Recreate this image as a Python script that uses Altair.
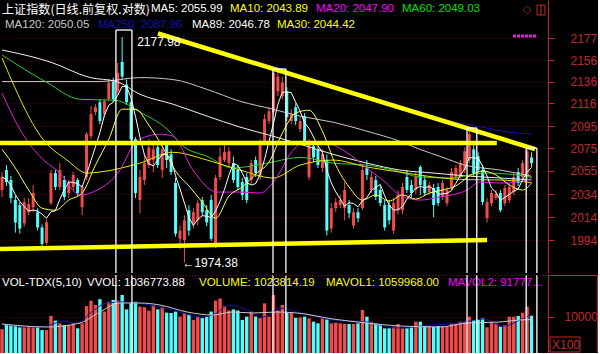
import altair as alt
import pandas as pd

# ---------------- values ----------------
opens = [2037.8, 2055.6, 2046.7, 2028.9, 2024.5, 2008.4, 2018.2, 2022.7, 2018.2, 2004.9,
         1991.5, 2026.2, 2052.9, 2040.5, 2046.7, 2035.1, 2040.5, 2046.7, 2022.7, 2049.4,
         2086.1, 2108.0, 2117.1, 2106.1, 2119.8, 2136.2, 2127.1, 2154.5, 2133.5, 2117.1,
         2083.3, 2028.9, 2046.7, 2060.0, 2064.5, 2076.0, 2055.6, 2078.8, 2069.7, 2044.0,
         1995.1, 1994.0, 2020.0, 2008.4, 2011.1, 2028.9, 2020.0, 2028.9, 1988.9, 2049.4,
         2064.5, 2061.8, 2061.8, 2055.6, 2044.9, 2049.4, 2046.7, 2064.5, 2049.4, 2080.6,
         2099.8, 2108.0, 2127.1, 2122.6, 2127.1, 2099.8, 2112.5, 2092.5, 2104.3, 2049.4,
         2077.0, 2074.2, 2057.4, 2064.5, 2004.0, 2021.8, 2024.5, 2021.8, 2024.5, 2006.7,
         2018.2, 2021.8, 2057.4, 2037.8, 2046.7, 2037.8, 2024.5, 2024.5, 2002.2, 2020.0,
         2020.0, 2049.4, 2042.3, 2037.8, 2058.3, 2046.7, 2036.0, 2039.6, 2040.5, 2031.6,
         2026.2, 2040.5, 2049.4, 2051.2, 2055.6, 2064.5, 2074.2, 2067.8, 2055.6, 2012.9,
         2026.2, 2030.7, 2035.1, 2026.2, 2028.9, 2036.0, 2053.8, 2049.4, 2049.4, 2066.9]
highs = [2053.8, 2060.0, 2050.3, 2032.5, 2027.1, 2030.7, 2030.7, 2042.3, 2021.8, 2007.5,
         2012.0, 2055.6, 2055.6, 2061.8, 2050.3, 2046.7, 2053.8, 2048.5, 2042.3, 2089.7,
         2113.4, 2115.3, 2119.8, 2119.8, 2138.1, 2139.9, 2153.6, 2177.98, 2138.1, 2119.8,
         2085.2, 2055.6, 2069.7, 2083.3, 2078.8, 2080.6, 2078.8, 2080.6, 2074.2, 2048.5,
         2006.7, 2015.6, 2024.5, 2021.8, 2028.9, 2031.6, 2024.5, 2033.4, 2051.2, 2076.0,
         2078.8, 2076.0, 2067.8, 2060.0, 2048.5, 2052.9, 2064.5, 2067.8, 2083.3, 2106.1,
         2112.5, 2147.2, 2147.2, 2140.8, 2130.8, 2110.7, 2116.2, 2103.4, 2107.1, 2083.3,
         2080.6, 2077.0, 2074.2, 2069.7, 2026.2, 2030.7, 2033.4, 2044.9, 2028.9, 2021.8,
         2021.8, 2060.0, 2064.5, 2053.8, 2050.3, 2041.4, 2028.9, 2028.9, 2030.7, 2037.8,
         2044.0, 2055.6, 2046.7, 2053.8, 2060.0, 2050.3, 2044.9, 2043.1, 2044.0, 2046.7,
         2040.5, 2057.4, 2060.0, 2064.5, 2076.0, 2094.3, 2078.8, 2071.5, 2060.0, 2030.7,
         2037.8, 2037.8, 2037.8, 2042.3, 2044.0, 2052.9, 2057.4, 2064.5, 2076.0, 2071.5]
lows = [2031.6, 2041.4, 2026.2, 2000.4, 1999.5, 2005.8, 2015.6, 2018.2, 2002.2, 1986.2,
        1989.7, 2024.5, 2037.8, 2037.8, 2028.9, 2030.7, 2037.8, 2032.5, 2015.6, 2046.7,
        2083.3, 2105.2, 2097.0, 2103.4, 2118.0, 2117.1, 2124.4, 2138.1, 2114.4, 2080.6,
        2030.7, 2017.3, 2042.3, 2057.4, 2053.8, 2057.4, 2048.5, 2057.4, 2051.2, 1996.9,
        1986.2, 1974.38, 1997.8, 2004.0, 2006.7, 2014.7, 2005.8, 1993.3, 1987.1, 2046.7,
        2062.7, 2059.1, 2044.0, 2037.8, 2028.9, 2026.2, 2043.1, 2049.4, 2046.7, 2077.9,
        2097.0, 2106.1, 2122.6, 2119.8, 2099.8, 2097.0, 2096.1, 2089.7, 2077.9, 2046.7,
        2062.7, 2057.4, 2053.8, 1997.8, 2000.4, 2018.2, 2021.8, 2011.1, 2012.9, 2004.0,
        2009.3, 2020.0, 2046.7, 2035.1, 2028.9, 2023.6, 2002.2, 2007.5, 1999.5, 2016.4,
        2016.4, 2035.1, 2030.7, 2034.2, 2033.4, 2032.5, 2033.4, 2013.8, 2023.6, 2028.9,
        2023.6, 2037.8, 2046.7, 2048.5, 2052.9, 2061.8, 2050.3, 2052.9, 2024.5, 2009.3,
        2023.6, 2028.9, 2018.2, 2023.6, 2026.2, 2033.4, 2041.4, 2046.7, 2046.7, 2058.3]
closes = [2049.4, 2044.9, 2030.7, 2009.3, 2004.0, 2027.1, 2025.3, 2035.1, 2004.9, 1990.6,
          2009.3, 2052.9, 2040.5, 2055.6, 2031.6, 2044.0, 2051.2, 2035.1, 2040.5, 2087.9,
          2106.1, 2112.5, 2099.8, 2118.0, 2135.3, 2119.8, 2144.4, 2140.8, 2117.1, 2083.3,
          2035.1, 2049.4, 2061.8, 2076.0, 2074.2, 2060.0, 2074.2, 2064.5, 2053.8, 1999.5,
          2002.2, 2011.1, 2002.2, 2018.2, 2026.2, 2018.2, 2009.3, 1995.1, 2048.5, 2067.8,
          2071.5, 2072.4, 2046.7, 2040.5, 2033.4, 2028.9, 2061.8, 2052.9, 2080.6, 2101.6,
          2108.9, 2144.4, 2140.8, 2135.3, 2103.4, 2106.1, 2099.8, 2099.8, 2081.5, 2078.8,
          2066.9, 2060.0, 2069.7, 2002.2, 2021.8, 2027.1, 2028.9, 2037.8, 2017.3, 2018.2,
          2012.9, 2055.6, 2051.2, 2049.4, 2031.6, 2026.2, 2004.9, 2011.1, 2026.2, 2033.4,
          2040.5, 2037.8, 2035.1, 2049.4, 2042.3, 2035.1, 2042.3, 2024.5, 2026.2, 2044.0,
          2037.8, 2053.8, 2057.4, 2061.8, 2072.4, 2087.9, 2052.9, 2055.6, 2027.1, 2027.1,
          2035.1, 2034.2, 2020.0, 2039.6, 2040.5, 2049.4, 2044.0, 2061.8, 2072.4, 2061.8]
volumes = [6500, 7700, 7700, 7400, 7050, 7050, 7400, 7050, 7050, 6300,
           6300, 10200, 8900, 8150, 7700, 7700, 8150, 6800, 8150, 12900,
           14400, 13200, 14800, 11400, 14100, 14600, 14400, 15950, 12000, 13650,
           14100, 12750, 12600, 11650, 13200, 12000, 12750, 11100, 11000, 11400,
           10000, 11000, 10600, 9100, 10000, 9600, 10000, 11400, 14400, 15000,
           12900, 11700, 12000, 11700, 9100, 10000, 11400, 10000, 9600, 13650,
           10000, 15950, 11700, 13200, 11100, 11000, 9700, 9800, 9990, 9530,
           8620, 8160, 9530, 9260, 8160, 8340, 8160, 7975, 7975, 7975,
           8160, 11825, 9990, 8620, 8160, 7975, 6780, 6780, 7240, 7975,
           6780, 6780, 7240, 8620, 8620, 7425, 7425, 7240, 7425, 7240,
           7240, 8160, 7975, 8620, 8620, 9990, 9075, 9260, 9530, 7060,
           8620, 8160, 7240, 7700, 9990, 9990, 10175, 11090, 12740, 10238]

# moving-average curves, read at sample points (candle index, price)
ma10_i = [0, 3, 6, 9, 12, 15, 18, 21, 24, 27, 30, 33, 36, 39, 42, 45, 48, 51, 54, 57,
          60, 63, 66, 69, 72, 75, 78, 81, 84, 87, 90, 93, 96, 99, 102, 105, 108, 111, 114, 117, 119]
ma10_p = [2074.2, 2057.4, 2037.8, 2021.8, 2020.0, 2028.9, 2035.1, 2060.0, 2083.3, 2110.7,
          2110.7, 2096.1, 2077.0, 2054.7, 2041.4, 2027.1, 2012.9, 2032.5, 2040.5, 2052.0,
          2062.7, 2088.8, 2107.1, 2109.8, 2090.6, 2060.0, 2040.5, 2028.9, 2033.4, 2028.0,
          2033.4, 2029.8, 2035.1, 2037.8, 2041.4, 2050.3, 2054.7, 2051.2, 2042.3, 2037.8, 2043.89]
ma20_i = [0, 4.0, 8.5, 13.0, 17.5, 21.4, 26.5, 29.4, 31.0, 35.5, 38.4, 42.9, 48.3, 53.5, 58.0,
          61.8, 64.7, 68.5, 72.6, 77.1, 82.0, 86.1, 89.4, 93.9, 98.4, 104.5, 107.4, 111.9, 115.7, 119]
ma20_p = [2125.6, 2092.5, 2067.8, 2052.9, 2033.4, 2037.8, 2055.6, 2077.0, 2083.3, 2087.9,
          2086.1, 2055.6, 2036.0, 2036.0, 2035.1, 2049.4, 2069.7, 2081.5, 2080.6, 2072.4,
          2057.4, 2044.9, 2033.4, 2028.9, 2031.6, 2037.8, 2044.9, 2044.0, 2044.9, 2047.90]
ma30_i = [0, 9.2, 14.6, 19.1, 22.0, 31.0, 38.4, 46.1, 53.5, 60.9, 67.0, 74.4, 82.0, 89.4,
          96.9, 104.5, 111.9, 119]
ma30_p = [2158.2, 2083.3, 2064.5, 2052.9, 2053.8, 2061.8, 2071.5, 2064.5, 2055.6, 2048.5,
          2060.0, 2064.5, 2058.3, 2053.8, 2049.4, 2047.0, 2046.7, 2044.42]
ma60_i = [0, 10.1, 17.5, 25.4, 31.0, 37.1, 40.7, 46.1, 51.9, 59.6, 67.0, 74.4, 82.0, 87.9,
          93.9, 100.7, 108.1, 115.7, 119]
ma60_p = [2161.0, 2135.3, 2119.8, 2118.9, 2108.0, 2092.5, 2077.0, 2067.8, 2057.4, 2061.8,
          2066.9, 2061.8, 2060.0, 2055.6, 2049.4, 2048.5, 2052.9, 2051.2, 2049.03]
ma89_i = [0, 10.8, 19.8, 25.8, 31.0, 38.4, 46.1, 53.5, 60.9, 67.0, 74.4, 82.0, 89.4, 96.9,
          104.5, 111.9, 119]
ma89_p = [2165.7, 2154.5, 2139.9, 2136.2, 2124.4, 2115.3, 2104.3, 2094.3, 2086.1, 2078.8,
          2069.7, 2061.8, 2055.6, 2052.9, 2050.3, 2048.5, 2046.78]
ma120_i = [0, 10.8, 22.0, 31.0, 38.4, 46.1, 53.5, 60.9, 67.0, 74.4, 82.0, 89.4, 93.9, 99.1,
           104.0, 111.9, 119]
ma120_p = [2136.2, 2136.2, 2136.2, 2139.9, 2138.1, 2128.9, 2118.0, 2110.7, 2104.3, 2098.8,
           2090.6, 2081.5, 2074.2, 2066.9, 2060.0, 2055.6, 2050.05]
ma250_i = [93.9, 98.4, 104.5, 114.2, 119]
ma250_p = [2107.6, 2101.6, 2097.0, 2089.7, 2087.96]

# volume averages read at sample points (candle index, volume x100)
mavol1_i = [0, 7.0, 10.1, 13.7, 16.9, 19.8, 23.6, 27.2, 30.3, 35.5, 40.0, 44.5, 47.4, 51.2,
            55.1, 58.7, 62.5, 66.3, 74.4, 82.0, 88.8, 96.9, 102.9, 108.1, 112.6, 116.4, 119]
mavol1_v = [7975, 7150, 7425, 8800, 8250, 11000, 13750, 14025, 13750, 12650, 11275, 9900,
            10450, 13200, 11825, 9900, 12375, 11275, 9075, 8525, 6875, 7700, 8250, 9350,
            7425, 9075, 10600]
mavol2_i = [0, 10.1, 17.5, 22.0, 26.5, 31.0, 35.5, 41.6, 47.4, 51.9, 56.4, 61.8, 66.3, 74.4,
            82.0, 89.4, 98.4, 104.5, 111.9, 116.5, 119]
mavol2_v = [7975, 7150, 8250, 11275, 13750, 13750, 13200, 11275, 10450, 11275, 11000, 11275,
            11000, 9350, 8250, 7425, 7150, 8250, 8525, 9100, 9178]

# hand-drawn annotations (candle index, price)
trend_names = ["upper", "upper", "lower", "lower", "falling", "falling"]
trend_i = [-0.45, 111.2, -0.45, 109.0, 35.05, 119.8]
trend_p = [2080.0, 2080.0, 1986.2, 1994.0, 2181.3, 2074.4]
box_left = [25.6, 60.9, 104.5, 117.8]
box_right = [29.2, 63.8, 106.7, 120.2]
box_top = [2184.6, 2147.9, 2093.5, 2075.3]

price_ticks = [1994, 2014, 2034, 2055, 2075, 2095, 2116, 2136, 2156, 2177]
vol_ticks = [10000]

head1 = [("上证指数(日线.前复权.对数)", 2, 9.5, "#FFFFFF"), ("MA5: 2055.99", 151, 9, "#FFFFFF"),
         ("MA10: 2043.89", 230, 9, "#FFFF00"), ("MA20: 2047.90", 316, 9, "#FF00FF"),
         ("MA60: 2049.03", 402, 9, "#00E000")]
head2 = [("MA120: 2050.05", 5, 25, "#C8C8C8"), ("MA250: 2087.96", 98, 25, "#1010B0"),
         ("MA89: 2046.78", 192, 25, "#FFFFFF"), ("MA30: 2044.42", 277, 25, "#FFFF00")]
head_vol = [("VOL-TDX(5,10)", 2, 8, "#FFFFFF"), ("VVOL: 1036773.88", 87, 8, "#FFFFFF"),
            ("VOLUME: 1023814.19", 199, 8, "#FFFF00"), ("MAVOL1: 1059968.00", 326, 8, "#FFFF00"),
            ("MAVOL2: 917772.6", 448, 8, "#FF00FF")]

# ---------------- styling ----------------
RED = "#F24B4B"
CYAN = "#54FCFC"
AXRED = "#C02828"
GRIDRED = "#7A0000"
YELLOW = "#FFFF00"
FONT = "Liberation Sans"
W, H1, H2 = 548, 273, 78

df = pd.DataFrame({"i": list(range(len(closes))), "open": opens, "high": highs,
                   "low": lows, "close": closes, "vol": volumes})

XS = alt.Scale(domain=[-0.45, 122.7], nice=False, zero=False, padding=0)
YS = alt.Scale(type="log", domain=[1965.6, 2213.3], nice=False, zero=False, padding=0)
VS = alt.Scale(domain=[0, 21450], nice=False, zero=True, padding=0)

yaxis = alt.Axis(orient="right", values=price_ticks, format="d", title=None,
                 labelColor=AXRED, tickColor=AXRED, domainColor=AXRED, tickSize=6,
                 labelPadding=16, grid=True, gridColor=GRIDRED, gridDash=[1, 3],
                 labelFontSize=12, labelFont=FONT, labelOverlap=False, labelFlush=False)
vaxis = alt.Axis(orient="right", values=vol_ticks, format="d", title=None,
                 labelColor=AXRED, tickColor=AXRED, domainColor=AXRED, tickSize=6,
                 labelPadding=10, grid=True, gridColor=GRIDRED, gridDash=[1, 3],
                 labelFontSize=12, labelFont=FONT, labelOverlap=False, labelFlush=False)

X = alt.X("i:Q", scale=XS, axis=None)
updown = alt.condition("datum.close >= datum.open", alt.value(RED), alt.value(CYAN))

wicks = alt.Chart(df).mark_rule(strokeWidth=1, clip=True).encode(
    x=X, y=alt.Y("low:Q", scale=YS, axis=yaxis), y2="high:Q", color=updown)
bodies = alt.Chart(df).mark_bar(size=3, clip=True).encode(
    x=X, y=alt.Y("open:Q", scale=YS, axis=yaxis), y2="close:Q", color=updown)

ma_sets = [("MA250", ma250_i, ma250_p, "#1414A8"), ("MA120", ma120_i, ma120_p, "#C8C8C8"),
           ("MA89", ma89_i, ma89_p, "#F0F0F0"), ("MA60", ma60_i, ma60_p, "#2ECC2E"),
           ("MA30", ma30_i, ma30_p, "#E6E600"), ("MA20", ma20_i, ma20_p, "#E020E0"),
           ("MA10", ma10_i, ma10_p, "#FFFF40")]
rows = []
for name, ii, pp, _c in ma_sets:
    for a, b in zip(ii, pp):
        rows.append({"name": name, "i": a, "p": b})
ma_df = pd.DataFrame(rows)
ma_lines = alt.Chart(ma_df).mark_line(strokeWidth=1, interpolate="monotone", clip=True).encode(
    x=X, y=alt.Y("p:Q", scale=YS, axis=yaxis),
    color=alt.Color("name:N", scale=alt.Scale(domain=[m[0] for m in ma_sets],
                                              range=[m[3] for m in ma_sets]), legend=None),
    detail="name:N")
ma5 = alt.Chart(df).transform_window(
    ma5="mean(close)", frame=[-4, 0], sort=[alt.SortField("i")]
).mark_line(strokeWidth=1, color="#FFFFFF", clip=True).encode(
    x=X, y=alt.Y("ma5:Q", scale=YS, axis=yaxis))

trend_df = pd.DataFrame({"name": trend_names, "i": trend_i, "p": trend_p})
trends = alt.Chart(trend_df).mark_line(color=YELLOW, strokeWidth=4.5, clip=True).encode(
    x=X, y=alt.Y("p:Q", scale=YS, axis=yaxis), detail="name:N")

box_df = pd.DataFrame({"l": box_left, "r": box_right, "top": box_top})
box_tops = alt.Chart(box_df).mark_rule(color="#FFFFFF", strokeWidth=1.3, clip=True).encode(
    x=alt.X("l:Q", scale=XS, axis=None), x2="r:Q", y=alt.Y("top:Q", scale=YS, axis=yaxis))
side_df = pd.DataFrame({"xi": box_left + box_right, "top": box_top + box_top})
box_sides = alt.Chart(side_df).mark_rule(color="#FFFFFF", strokeWidth=1.3, clip=True).encode(
    x=alt.X("xi:Q", scale=XS, axis=None), y=alt.Y("top:Q", scale=YS, axis=yaxis),
    y2=alt.value(H1))

hi_df = pd.DataFrame({"i": [27], "p": [highs[27]], "t": ["%.2f" % highs[27]]})
hi_lbl = alt.Chart(hi_df).mark_text(align="left", baseline="middle", dx=15, dy=5,
                                    color="#FFFFFF", fontSize=12, font=FONT).encode(
    x=X, y=alt.Y("p:Q", scale=YS, axis=yaxis), text="t:N")
lo_df = pd.DataFrame({"i": [41], "p": [lows[41]], "t": ["←%.2f" % lows[41]]})
lo_lbl = alt.Chart(lo_df).mark_text(align="left", baseline="middle", dx=-2, dy=0,
                                    color="#FFFFFF", fontSize=12, font=FONT).encode(
    x=X, y=alt.Y("p:Q", scale=YS, axis=yaxis), text="t:N")


def label(txt, px, py, col, font=FONT, size=11.5, limit=0):
    kw = dict(align="left", baseline="middle", color=col, fontSize=size, font=font, text=txt)
    if limit:
        kw["limit"] = limit
        kw["ellipsis"] = ""
    return alt.Chart(alt.Data(values=[{}])).mark_text(**kw).encode(
        x=alt.value(px), y=alt.value(py))


top_texts = []
for k, (t, px, py, col) in enumerate(head1 + head2):
    f = "Noto Sans CJK SC" if k == 0 else FONT
    top_texts.append(label(t, px, py, col, font=f, size=12.1 if k == 0 else 11.5))

one = alt.Data(values=[{}])
icon_d = alt.Chart(one).mark_point(shape="diamond", filled=False, color=AXRED, size=60,
                                   strokeWidth=1).encode(x=alt.value(527), y=alt.value(10))
icon_b = alt.Chart(one).mark_rect(fillOpacity=0, stroke=AXRED, strokeWidth=1).encode(
    x=alt.value(537), x2=alt.value(545), y=alt.value(5), y2=alt.value(15))
icon_l = alt.Chart(one).mark_rule(color=AXRED, strokeWidth=1).encode(
    x=alt.value(541), y=alt.value(5), y2=alt.value(15))
marker = alt.Chart(one).mark_rule(color="#E020E0", strokeWidth=3, strokeDash=[3, 1]).encode(
    x=alt.value(513), x2=alt.value(536), y=alt.value(36))

top = alt.layer(wicks, bodies, ma_lines, ma5, trends, box_tops, box_sides, hi_lbl, lo_lbl,
                *top_texts, icon_d, icon_b, icon_l, marker).properties(width=W, height=H1)

# ---------------- volume panel ----------------
vbars = alt.Chart(df).mark_bar(size=3.4, clip=True).encode(
    x=X, y=alt.Y("vol:Q", scale=VS, axis=vaxis), color=updown)
vrows = [{"name": "MAVOL1", "i": a, "v": b} for a, b in zip(mavol1_i, mavol1_v)] + \
        [{"name": "MAVOL2", "i": a, "v": b} for a, b in zip(mavol2_i, mavol2_v)]
vma = alt.Chart(pd.DataFrame(vrows)).mark_line(strokeWidth=1, interpolate="monotone",
                                               clip=True).encode(
    x=X, y=alt.Y("v:Q", scale=VS, axis=vaxis),
    color=alt.Color("name:N", scale=alt.Scale(domain=["MAVOL1", "MAVOL2"],
                                              range=["#FFFF40", "#E020E0"]), legend=None),
    detail="name:N")
vol_texts = [label(t, px, py, col, limit=(W - px if k == 4 else 0))
             for k, (t, px, py, col) in enumerate(head_vol)]
vsides = alt.Chart(pd.DataFrame({"xi": box_left + box_right})).mark_rule(
    color="#FFFFFF", strokeWidth=1.3, clip=True).encode(
    x=alt.X("xi:Q", scale=XS, axis=None), y=alt.value(0), y2=alt.value(H2))
sep = alt.Chart(one).mark_rule(color=GRIDRED, strokeWidth=1, strokeDash=[1, 2],
                               clip=True).encode(
    x=alt.value(0), x2=alt.value(W), y=alt.value(0.5))
frame_t = alt.Chart(one).mark_rule(color=AXRED, strokeWidth=1).encode(
    x=alt.value(W), x2=alt.value(597.5), y=alt.value(0.5))
frame_r = alt.Chart(one).mark_rule(color=AXRED, strokeWidth=1).encode(
    x=alt.value(597.5), y=alt.value(0.5), y2=alt.value(H2 - 1))
x100_box = alt.Chart(one).mark_rect(fillOpacity=0, stroke=AXRED, strokeWidth=1).encode(
    x=alt.value(550), x2=alt.value(580), y=alt.value(62), y2=alt.value(77))
x100_txt = label("X100", 552, 70, AXRED, size=12)

bottom = alt.layer(vbars, vma, *vol_texts, vsides, sep, frame_t, frame_r, x100_box,
                   x100_txt).properties(width=W, height=H2)

chart = alt.vconcat(top, bottom, spacing=2).properties(
    background="#000000", padding={"left": 0, "top": 0, "right": 0, "bottom": 0}
).configure_view(stroke=None)

chart.save("out.html", embed_options={"renderer": "svg", "actions": False})
